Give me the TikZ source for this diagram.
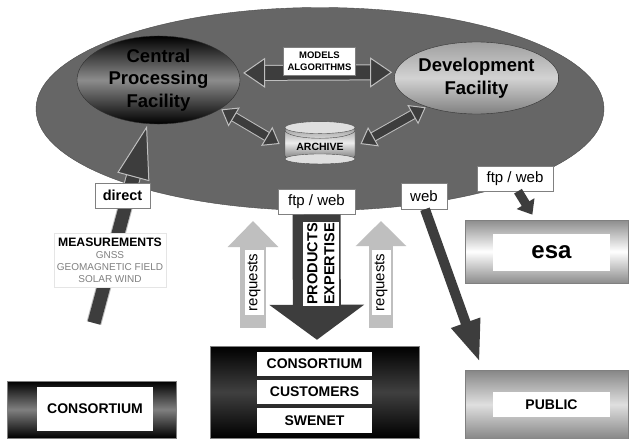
\documentclass[tikz,border=0pt]{standalone}
\usepackage{fontspec}
\setmainfont{Liberation Sans}
\usetikzlibrary{arrows.meta, positioning, shapes.geometric}
\definecolor{arrowdark}{gray}{0.24}
\definecolor{groundgray}{gray}{0.40}
\definecolor{edgegray}{gray}{0.75}
\definecolor{reqgray}{gray}{0.75}
\tikzset{
    facility/.style={ellipse, draw=black!80, minimum width=163pt, inner sep=0pt, align=center, font=\bfseries\fontsize{18.5}{22.5}\selectfont},
    labelbox/.style={draw=gray, fill=white, inner sep=0pt, font=\fontsize{15}{18}\selectfont, minimum height=25pt},
    whitebox/.style={fill=white, inner sep=0pt, font=\bfseries\fontsize{14}{17}\selectfont},
    block/.style={draw=gray, inner sep=0pt},
    linkarrow/.style={draw=edgegray, double=arrowdark, line width=1pt},
    solidarrow/.style={draw=arrowdark, fill=arrowdark}
}
\begin{document}
\begin{tikzpicture}[x=1pt, y=-1pt, on grid]
    \path[fill=white] (0,0) rectangle (630,439);
    \useasboundingbox (0,0) rectangle (630,439);
    % ellipse with the two facilities and the archive
    \node[ellipse, draw=black!70, fill=groundgray, minimum width=568pt, minimum height=203pt, inner sep=0pt] (ground) at (320,109) {};
    \node[facility, minimum height=74pt, shade, top color=black, bottom color=black, middle color=gray!90] (central) at (158.5,80) {Central\\Processing\\Facility};
    \node[facility, minimum height=72pt, shade, top color=gray!75, bottom color=gray, middle color=gray!35] (development) at (476.5,78) {Development\\Facility};
    \node[cylinder, shape border rotate=90, aspect=0.35, draw=black!70, minimum width=70pt, minimum height=42pt, inner sep=0pt, shade, top color=gray, bottom color=black!65, middle color=gray!15, font=\bfseries\fontsize{10.5}{12}\selectfont] (archive) at (320,147) {ARCHIVE};
    \draw[fill=gray!25, draw=black!70] ([yshift=-6pt]archive.north) ellipse (35pt and 6pt);
    \draw[fill=gray!25, draw=black!70] ([yshift=5pt]archive.south) ellipse (35pt and 5pt);
    % blocks at the bottom
    \node[block, minimum width=169pt, minimum height=57pt, shade, top color=black, bottom color=black, middle color=gray] (consortiumleft) at (91.5,409.5) {};
    \node[block, minimum width=209pt, minimum height=92pt, shade, top color=black, bottom color=black, middle color=black!75] (stack) at (314.5,392) {};
    \node[block, minimum width=163pt, minimum height=63pt, shade, top color=gray!90, bottom color=gray!90, middle color=white] (esa) at (546.5,251.5) {};
    \node[block, minimum width=163pt, minimum height=69pt, shade, top color=gray!95, bottom color=gray!95, middle color=gray!25] (public) at (546.5,404.5) {};
    \coordinate (measfoot) at (94,323);
    \coordinate (reqtipleft) at (253,221);
    \coordinate (reqtipright) at (381,221);
    % links inside the ellipse
    \draw[linkarrow, double distance=14pt, shorten <=4pt, shorten >=3pt, {Triangle[length=22pt,width=30pt,fill=arrowdark,line width=1pt]}-{Triangle[length=22pt,width=30pt,fill=arrowdark,line width=1pt]}] (central.5) -- (development.176);
    \draw[linkarrow, double distance=8pt, {Triangle[length=15pt,width=22pt,fill=arrowdark,line width=1pt]}-{Triangle[length=15pt,width=22pt,fill=arrowdark,line width=1pt]}, shorten <=1pt, shorten >=6pt] (central.-25) -- (archive.west);
    \draw[linkarrow, double distance=8pt, {Triangle[length=15pt,width=22pt,fill=arrowdark,line width=1pt]}-{Triangle[length=15pt,width=22pt,fill=arrowdark,line width=1pt]}, shorten <=6pt, shorten >=1pt] (archive.east) -- (development.-150);
    \draw[linkarrow, double distance=13pt, -{Triangle[length=53pt,width=33pt,fill=arrowdark,line width=1pt]}, shorten >=2pt] (measfoot) -- (central.256);
    % requests and deliveries
    \draw[reqgray, line width=26pt, shorten <=18pt, -{Triangle[length=26pt,width=49pt,fill=reqgray]}] (stack.north -| reqtipleft) -- (reqtipleft);
    \draw[reqgray, line width=24pt, shorten <=18pt, -{Triangle[length=25pt,width=49pt,fill=reqgray]}] (stack.north -| reqtipright) -- (reqtipright);
    \node[labelbox, draw=none, rotate=90, minimum width=65pt, minimum height=19pt] (reqleft) at (254,282.5) {requests};
    \node[labelbox, draw=none, rotate=90, minimum width=65pt, minimum height=19pt] (reqright) at (381,282.5) {requests};
    \node[labelbox, minimum width=77pt] (ftpmid) at (316.5,202) {ftp / web};
    \node[labelbox, minimum width=46pt, minimum height=26pt] (web) at (424,196) {web};
    \node[labelbox, minimum width=76pt] (ftpright) at (515,178.5) {ftp / web};
    \draw[solidarrow, line width=48pt, shorten >=6pt, -{Triangle[length=35pt,width=93pt,fill=arrowdark]}] (ftpmid.south) -- ([xshift=2.5pt]stack.north);
    \draw[solidarrow, line width=10pt, shorten >=8pt, -{Triangle[length=42pt,width=28pt,fill=arrowdark]}] ([xshift=1pt]web.south) -- ([xshift=-64pt]public.north);
    \draw[solidarrow, line width=9pt, shorten >=6pt, -{Triangle[length=13pt,width=20pt,fill=arrowdark]}] ([xshift=3pt]ftpright.south) -- ([xshift=-11pt]esa.north);
    % boxes on top of the links
    \node[labelbox, font=\bfseries\fontsize{14.5}{18}\selectfont, minimum width=55pt] (direct) at (122.5,195.5) {direct};
    \node[draw=gray!20, fill=white, inner sep=0pt, minimum width=112pt, minimum height=54pt, align=center, text=gray, font=\fontsize{10}{12}\selectfont] (measurements) at (110,260) {{\bfseries\fontsize{12.2}{13}\selectfont\textcolor{black}{MEASUREMENTS}}\\GNSS\\GEOMAGNETIC FIELD\\SOLAR WIND};
    \node[labelbox, minimum width=72pt, minimum height=28pt, font=\bfseries\fontsize{9.5}{12}\selectfont, align=center] (models) at (319.5,61) {MODELS\\ALGORITHMS};
    \node[whitebox, rotate=90, minimum width=84pt, minimum height=36pt, align=center, font=\bfseries\fontsize{14.5}{17}\selectfont] (products) at (321,264) {PRODUCTS\\EXPERTISE};
    \node[whitebox, minimum width=116pt, minimum height=44pt] (consortiuma) at (95,409) {CONSORTIUM};
    \node[whitebox, minimum width=115pt, minimum height=24pt] (consortiumb) at (314.5,364) {CONSORTIUM};
    \node[whitebox, minimum width=115pt, minimum height=24pt] (customers) [below=28pt of consortiumb] {CUSTOMERS};
    \node[whitebox, minimum width=115pt, minimum height=25pt] (swenet) [below=28.5pt of customers] {SWENET};
    \node[whitebox, minimum width=117pt, minimum height=37pt, font=\bfseries\fontsize{24}{28}\selectfont] (esalabel) at (551.5,252.5) {esa};
    \node[whitebox, minimum width=117pt, minimum height=25pt] (publiclabel) at (551.5,404.5) {PUBLIC};
\end{tikzpicture}
\end{document}
